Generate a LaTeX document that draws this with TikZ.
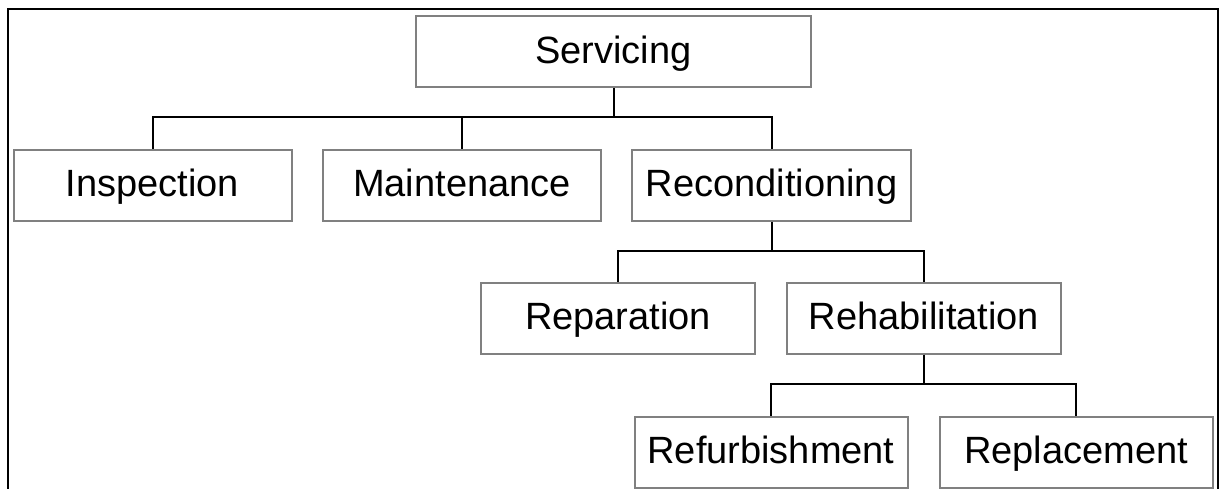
\documentclass[tikz,border=0pt]{standalone}
\usepackage{fontspec}
\setmainfont{Liberation Sans}
\begin{document}
\begin{tikzpicture}[x=1pt,y=-1pt,
  box/.style={draw=black!50,line width=2pt,rectangle,minimum height=71pt,
    font=\fontsize{38}{45}\selectfont,text height=27.2pt,text depth=4pt,inner sep=0pt},
  conn/.style={draw=black,line width=2pt}]
\useasboundingbox (0,0) rectangle (1219,488);
\draw[line width=2pt] (8,500) -- (8,9) -- (1217.5,9) -- (1217.5,500);
\node[box,minimum width=395pt] (serv) at (613.5,51.5) {Servicing};
\node[box,minimum width=278pt] (insp) at (152.5,185) {Inspection};
\node[box,minimum width=278pt] (maint) at (462,185) {Maintenance};
\node[box,minimum width=279pt] (recon) at (771.5,185) {Reconditioning};
\node[box,minimum width=274pt] (repar) at (618,318) {Reparation};
\node[box,minimum width=274pt] (rehab) at (924,318) {Rehabilitation};
\node[box,minimum width=273pt] (refurb) at (771,452) {Refurbishment};
\node[box,minimum width=273pt] (repl) at (1076,452) {Replacement};
\coordinate (j1) at (613.5,117.3);
\coordinate (j2) at (771.5,251);
\coordinate (j3) at (924,384.3);
\draw[conn] (serv.south) -- (j1);
\draw[conn] (insp.north) |- (j1) -| (recon.north);
\draw[conn] (maint.north) -- (maint.north |- j1);
\draw[conn] (recon.south) -- (j2);
\draw[conn] (repar.north) |- (j2) -| (rehab.north);
\draw[conn] (rehab.south) -- (j3);
\draw[conn] (refurb.north) |- (j3) -| (repl.north);
\end{tikzpicture}
\end{document}
